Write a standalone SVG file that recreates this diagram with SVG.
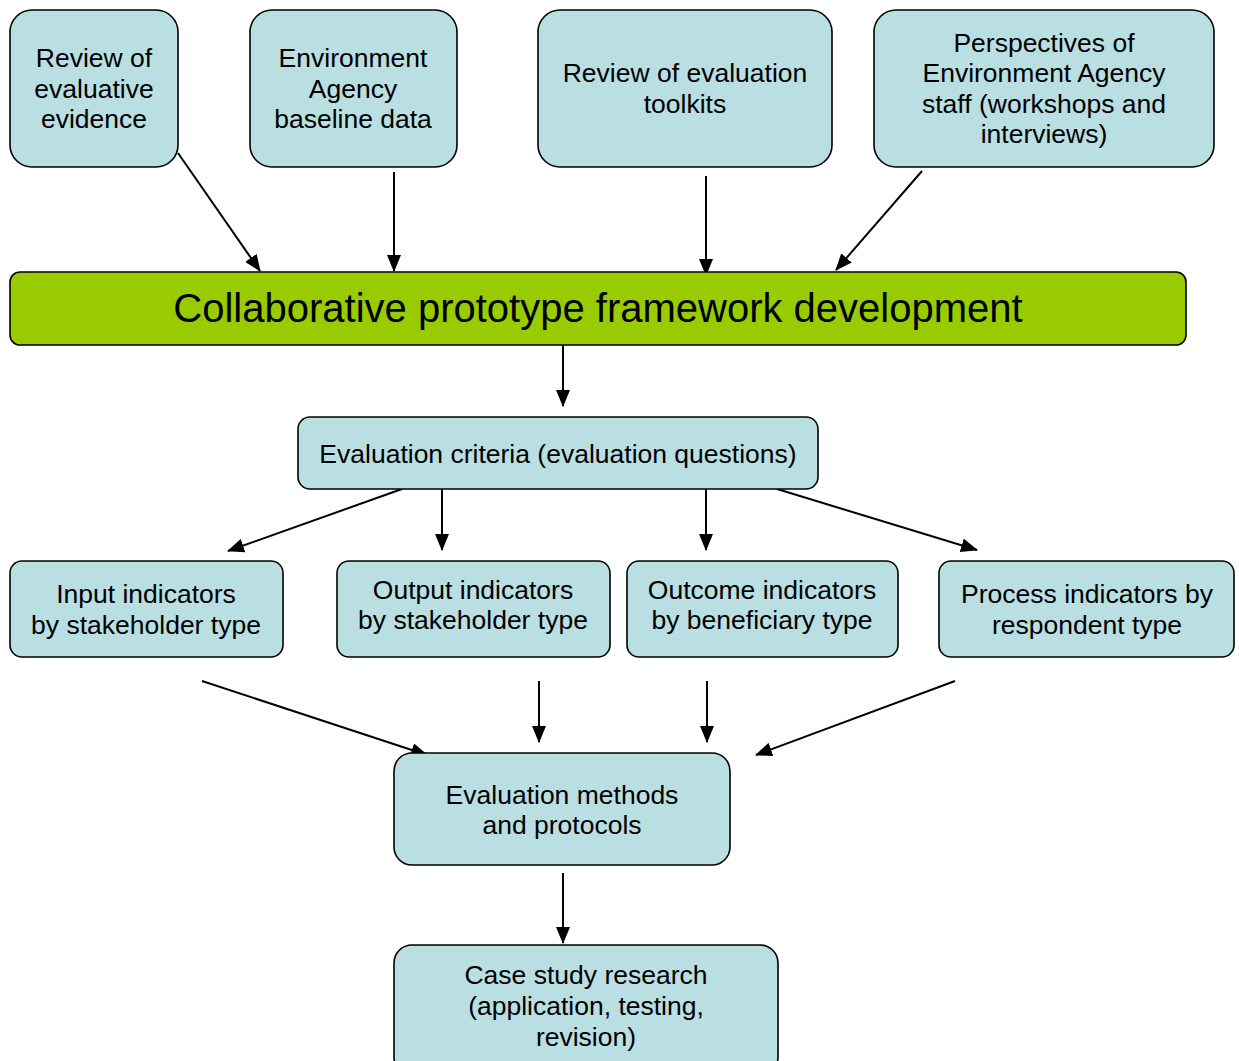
<svg xmlns="http://www.w3.org/2000/svg" width="1239" height="1061" viewBox="0 0 1239 1061">
<defs>
<marker id="ah" markerUnits="userSpaceOnUse" markerWidth="17" markerHeight="14" refX="16" refY="7" orient="auto">
<path d="M0,0 L17,7 L0,14 Z" fill="#000"/>
</marker>
<style>
.box{fill:#B9DFE3;stroke:#000;stroke-width:1.6}
.green{fill:#99CC00;stroke:#000;stroke-width:1.6}
text{font-family:"Liberation Sans",Arial,sans-serif;font-size:26.5px;fill:#000;text-anchor:middle}
.big{font-size:40px}
.c{stroke:#000;stroke-width:2;fill:none;marker-end:url(#ah)}
</style>
</defs>
<rect width="1239" height="1061" fill="#fff"/>
<g id="connectors">
<line class="c" x1="178" y1="153" x2="260" y2="271"/>
<line class="c" x1="394" y1="172" x2="394" y2="271"/>
<line class="c" x1="706" y1="176" x2="706" y2="275"/>
<line class="c" x1="922" y1="171" x2="836" y2="270"/>
<line class="c" x1="563" y1="345" x2="563" y2="406"/>
<line class="c" x1="402" y1="489" x2="228" y2="551"/>
<line class="c" x1="442" y1="489" x2="442" y2="550"/>
<line class="c" x1="706" y1="489" x2="706" y2="550"/>
<line class="c" x1="777" y1="489" x2="977" y2="550"/>
<line class="c" x1="202" y1="681" x2="427" y2="755"/>
<line class="c" x1="539" y1="681" x2="539" y2="742"/>
<line class="c" x1="707" y1="681" x2="707" y2="742"/>
<line class="c" x1="955" y1="681" x2="756" y2="755"/>
<line class="c" x1="563" y1="873" x2="563" y2="943"/>
</g>
<g id="n1"><rect class="box" x="10" y="10" width="168" height="157" rx="22"/>
<text x="94" y="67">Review of</text><text x="94" y="98">evaluative</text><text x="94" y="128">evidence</text></g>
<g id="n2"><rect class="box" x="250" y="10" width="207" height="157" rx="22"/>
<text x="353" y="67">Environment</text><text x="353" y="98">Agency</text><text x="353" y="128">baseline data</text></g>
<g id="n3"><rect class="box" x="538" y="10" width="294" height="157" rx="22"/>
<text x="685" y="82">Review of evaluation</text><text x="685" y="113">toolkits</text></g>
<g id="n4"><rect class="box" x="874" y="10" width="340" height="157" rx="22"/>
<text x="1044" y="52">Perspectives of</text><text x="1044" y="82">Environment Agency</text><text x="1044" y="113">staff (workshops and</text><text x="1044" y="143">interviews)</text></g>
<g id="n5"><rect class="green" x="10" y="272" width="1176" height="73" rx="10"/>
<text class="big" x="598" y="322">Collaborative prototype framework development</text></g>
<g id="n6"><rect class="box" x="298" y="417" width="520" height="72" rx="12"/>
<text x="558" y="463">Evaluation criteria (evaluation questions)</text></g>
<g id="n7"><rect class="box" x="10" y="561" width="273" height="96" rx="12"/>
<text x="146" y="603">Input indicators</text><text x="146" y="634">by stakeholder type</text></g>
<g id="n8"><rect class="box" x="337" y="561" width="273" height="96" rx="12"/>
<text x="473" y="599">Output indicators</text><text x="473" y="629">by stakeholder type</text></g>
<g id="n9"><rect class="box" x="627" y="561" width="271" height="96" rx="12"/>
<text x="762" y="599">Outcome indicators</text><text x="762" y="629">by beneficiary type</text></g>
<g id="n10"><rect class="box" x="939" y="561" width="295" height="96" rx="12"/>
<text x="1087" y="603">Process indicators by</text><text x="1087" y="634">respondent type</text></g>
<g id="n11"><rect class="box" x="394" y="753" width="336" height="112" rx="18"/>
<text x="562" y="804">Evaluation methods</text><text x="562" y="834">and protocols</text></g>
<g id="n12"><rect class="box" x="394" y="945" width="384" height="130" rx="18"/>
<text x="586" y="984">Case study research</text><text x="586" y="1015">(application, testing,</text><text x="586" y="1046">revision)</text></g>
</svg>
